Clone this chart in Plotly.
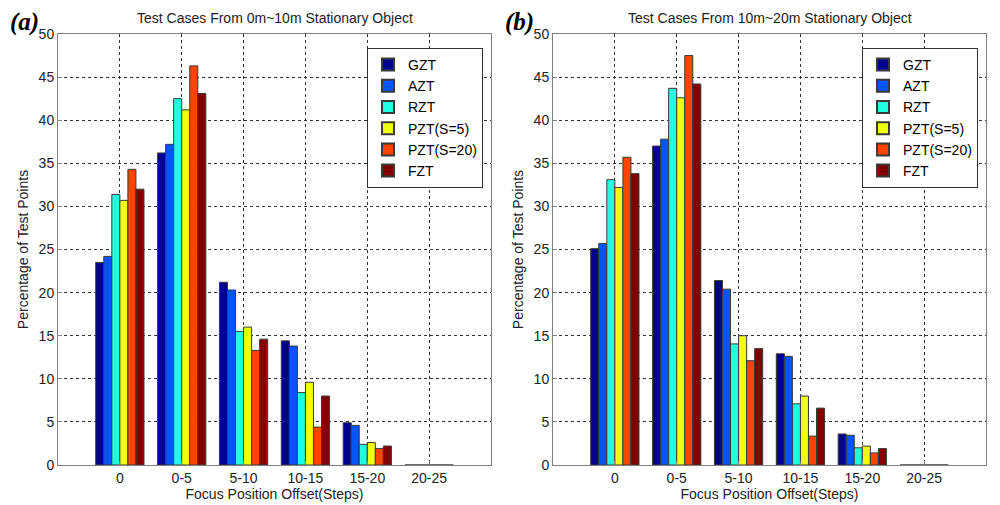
import plotly.graph_objects as go

# offset bins (steps)
categories = ["0", "0-5", "5-10", "10-15", "15-20", "20-25"]
methods = ["GZT", "AZT", "RZT", "PZT(S=5)", "PZT(S=20)", "FZT"]
colors = ["#000090", "#0055FF", "#20FFE0", "#EEFF10", "#FF4400", "#800000"]

# (a) 0m~10m
a_gzt = [23.5, 36.2, 21.2, 14.4, 4.9, 0]
a_azt = [24.2, 37.2, 20.3, 13.8, 4.6, 0]
a_rzt = [31.4, 42.5, 15.5, 8.4, 2.4, 0]
a_pzt5 = [30.7, 41.2, 16.0, 9.6, 2.6, 0]
a_pzt20 = [34.3, 46.3, 13.3, 4.4, 1.9, 0]
a_fzt = [32.0, 43.1, 14.6, 8.0, 2.2, 0]

# (b) 10m~20m
b_gzt = [25.1, 37.0, 21.4, 12.9, 3.6, 0]
b_azt = [25.7, 37.8, 20.4, 12.6, 3.45, 0]
b_rzt = [33.1, 43.7, 14.05, 7.1, 2.0, 0]
b_pzt5 = [32.2, 42.6, 15.0, 8.0, 2.2, 0]
b_pzt20 = [35.7, 47.5, 12.1, 3.35, 1.4, 0]
b_fzt = [33.8, 44.2, 13.5, 6.6, 1.9, 0]

panels = [
    ("(a)", "Test Cases From 0m~10m Stationary Object",
     [a_gzt, a_azt, a_rzt, a_pzt5, a_pzt20, a_fzt]),
    ("(b)", "Test Cases From 10m~20m Stationary Object",
     [b_gzt, b_azt, b_rzt, b_pzt5, b_pzt20, b_fzt]),
]

W, H, OFF = 1000, 505, 8  # page body margin shifts the div by 8px


def px(x):
    return (x - OFF) / W


def py(y):
    return 1 - (y - OFF) / H


font = "Liberation Sans, Arial, sans-serif"
xdoms = [(px(58), px(491)), (px(553), px(986))]
ydom = (py(465), py(34))
tag_x = [px(8), px(503)]

fig = go.Figure()
for i, (tag, title, series) in enumerate(panels):
    n = "" if i == 0 else "2"
    for name, vals, col in zip(methods, series, colors):
        fig.add_trace(go.Bar(
            x=list(range(len(categories))), y=vals, name=name,
            marker=dict(color=col, line=dict(color="#3a3a3a", width=1)),
            xaxis="x" + n, yaxis="y" + n, legend="legend" + n,
        ))
    d = xdoms[i]
    ax = dict(domain=d, range=[-1, 6], tickvals=list(range(len(categories))),
              ticktext=categories, showgrid=True, gridcolor="#333333",
              griddash="dot", gridwidth=1, showline=True, linecolor="#808080",
              mirror=True, ticks="inside", ticklen=4, tickcolor="#808080",
              zeroline=False, tickfont=dict(size=14, color="#222"),
              automargin=False,
              title=dict(text="Focus Position Offset(Steps)",
                         font=dict(size=14, color="#222"), standoff=2),
              anchor="y" + n)
    ay = dict(domain=ydom, range=[0, 50], dtick=5, showgrid=True,
              gridcolor="#333333", griddash="dot", gridwidth=1,
              showline=True, linecolor="#808080", mirror=True,
              ticks="inside", ticklen=4, tickcolor="#808080", zeroline=False,
              tickfont=dict(size=14, color="#222"), automargin=False,
              title=dict(text="Percentage of Test Points",
                         font=dict(size=14, color="#222"), standoff=6),
              anchor="x" + n)
    fig.update_layout(**{"xaxis" + n: ax, "yaxis" + n: ay})
    fig.add_annotation(x=(d[0] + d[1]) / 2, y=py(18), xref="paper",
                       yref="paper", text=title, showarrow=False,
                       xanchor="center", yanchor="middle",
                       font=dict(size=14, color="#222", family=font))
    fig.add_annotation(x=tag_x[i], y=py(22), xref="paper",
                       yref="paper", text="<b><i>" + tag + "</i></b>",
                       showarrow=False, xanchor="left", yanchor="middle",
                       font=dict(size=25, color="black",
                                 family="Liberation Serif, serif"))
    leg = dict(x=d[1] - 0.124, y=py(48), xanchor="left", yanchor="top",
               bgcolor="white", bordercolor="#333333", borderwidth=1,
               font=dict(size=14, color="black", family=font),
               tracegroupgap=0, itemsizing="constant")
    fig.update_layout(**{"legend" + n: leg})

fig.update_layout(
    width=W, height=H, barmode="group", bargap=0.22, bargroupgap=0,
    margin=dict(l=0, r=0, t=0, b=0, autoexpand=False), plot_bgcolor="white",
    paper_bgcolor="white", font=dict(family=font), showlegend=True,
)
fig.write_html("out.html")
